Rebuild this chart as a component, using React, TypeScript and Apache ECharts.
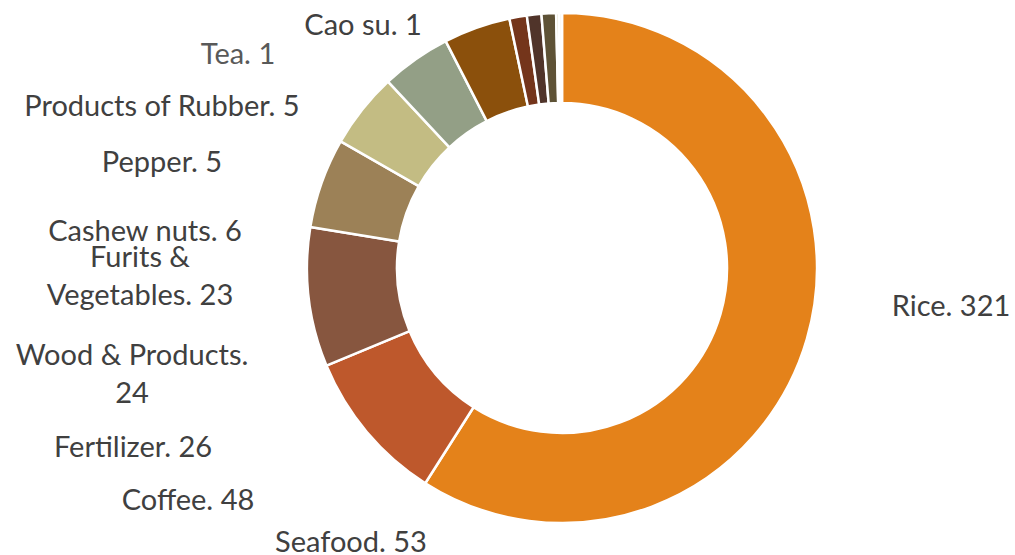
import React, { useEffect, useRef } from "react";
import * as echarts from "echarts";

const categories = [
  "Rice",
  "Seafood",
  "Coffee",
  "Other",
  "Fertilizer",
  "Wood & Products",
  "Furits & Vegetables",
  "Cashew nuts",
  "Pepper",
  "Products of Rubber",
  "Tea",
  "Cao su",
];
const values = [321, 53, 48, 31, 26, 24, 23, 6, 5, 5, 1, 1];
const hiddenLabels = ["Other"];

const colors = [
  "#E4821A",
  "#BE582C",
  "#87563F",
  "#9C8157",
  "#C3BC83",
  "#939F86",
  "#8B500C",
  "#74351B",
  "#50342A",
  "#5E5236",
  "#D8D3B5",
  "#F3F0E6",
];

// label anchor positions (text centres) in pixels
const labelPos: [number, number][] = [
  [951, 304],
  [351, 540],
  [188, 498],
  [0, 0],
  [133, 445],
  [132, 372],
  [140, 274],
  [145, 229],
  [162, 160],
  [162, 104],
  [238, 52],
  [363, 23],
];

function labelText(name: string, value: number): string {
  if (name === "Furits & Vegetables") return "Furits &\nVegetables. " + value;
  if (name === "Wood & Products") return "Wood & Products.\n" + value;
  return name + ". " + value;
}

export default function App() {
  const ref = useRef<HTMLDivElement>(null);
  useEffect(() => {
    if (!ref.current) return;
    const chart = echarts.init(ref.current, undefined, { renderer: "svg" });
    chart.setOption({
      animation: false,
      backgroundColor: "#ffffff",
      series: [
        {
          type: "pie",
          center: [562, 268],
          radius: [165, 255],
          startAngle: 90,
          clockwise: true,
          avoidLabelOverlap: false,
          itemStyle: { borderColor: "#ffffff", borderWidth: 2.5 },
          label: {
            show: true,
            position: "outside",
            fontFamily: "Lato, 'Open Sans', sans-serif",
            fontSize: 29,
            lineHeight: 38,
            color: "#404040",
            align: "center",
            formatter: (p: any) => labelText(p.name, p.value),
          },
          labelLine: { show: false },
          labelLayout: (p: any) => {
            const pos = labelPos[p.dataIndex];
            return {
              x: pos[0],
              y: pos[1],
              align: "center",
              verticalAlign: "middle",
            };
          },
          data: categories.map((c, i) => ({
            name: c,
            value: values[i],
            itemStyle: { color: colors[i] },
            label: hiddenLabels.includes(c)
              ? { show: false }
              : c === "Tea"
              ? { color: "#595959" }
              : {},
          })),
        },
      ],
    });
    return () => chart.dispose();
  }, []);
  return (
    <div
      ref={ref}
      style={{ width: 1015, height: 555, position: "absolute", left: 0, top: 0 }}
    />
  );
}
